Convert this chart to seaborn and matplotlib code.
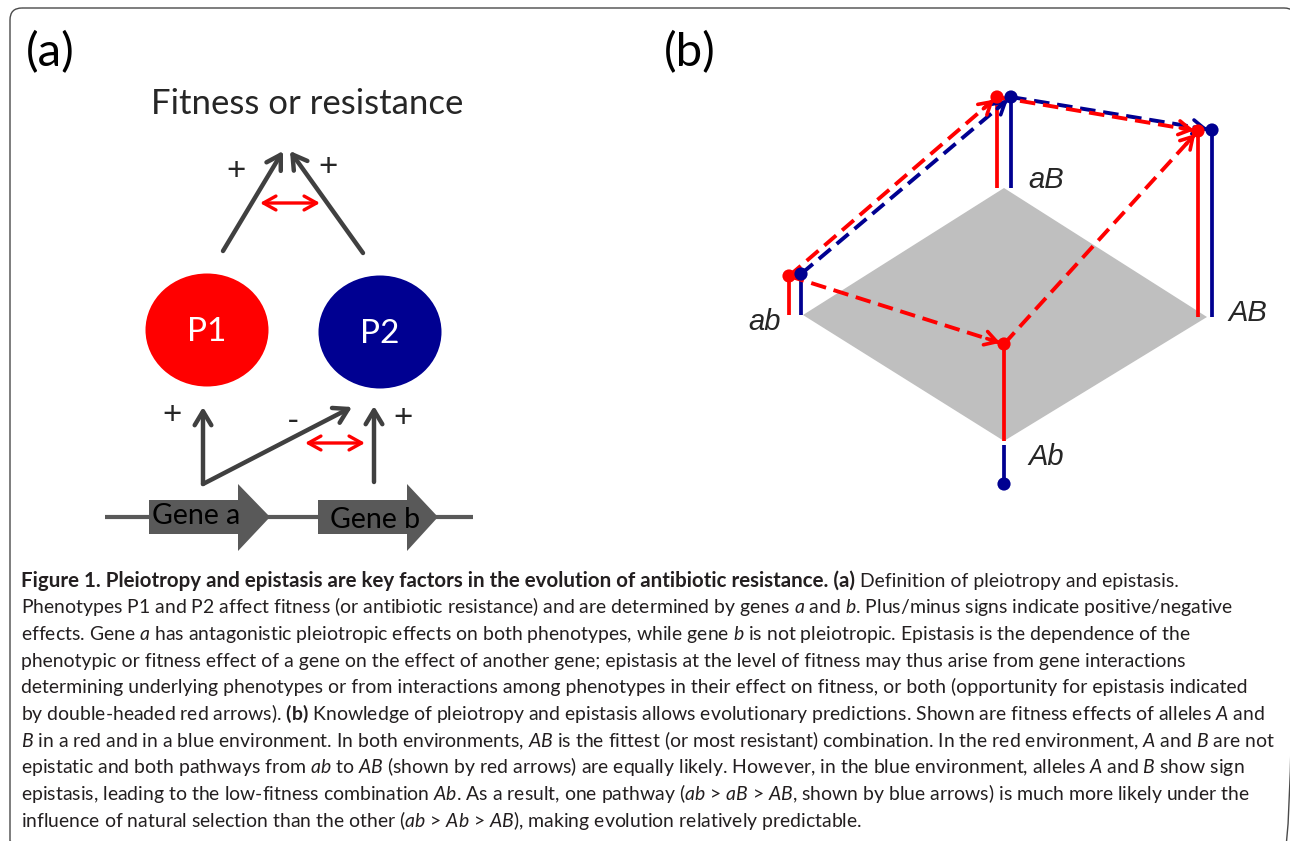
"""Pleiotropy and epistasis diagram (Figure 1) redrawn with seaborn/matplotlib."""
import matplotlib
matplotlib.use('Agg')
import matplotlib.pyplot as plt
from matplotlib.patches import Ellipse, FancyBboxPatch, Polygon
import numpy as np
import pandas as pd
import seaborn as sns

# ---- panel (a): genes -> phenotypes -> fitness ----
pheno_names = ['P1', 'P2']
pheno_x = [207, 380]
pheno_y = [330, 332]
pheno_colors = ['#FF0000', '#000091']
gene_names = ['Gene a', 'Gene b']
gene_start = [149, 318]
gene_head = [238, 407]
gene_tip = [270, 438]
gene_label_x = [152, 330]
gene_label_y = [516, 520]
# effect arrows (tail x, tail y, tip x, tip y)
effect_arrows = [(223, 251, 283, 151), (363, 253, 290, 151),
                 (203, 484, 203, 407), (203, 484, 352, 407),
                 (374, 482, 374, 406)]
epistasis_arrows = [(260, 203, 320, 203), (305, 443, 365, 443)]
sign_text = ['+', '+', '+', '-', '+']
sign_x = [236, 328, 172, 293, 403]
sign_y = [171, 167, 415, 422, 418]

# ---- panel (b): fitness of four genotypes in two environments ----
genotypes = ['ab', 'aB', 'AB', 'Ab']
corner_x = [803, 1004, 1207, 1004]
corner_y = [315, 188, 317, 441]
red_x = [789, 997, 1198, 1004]
blue_x = [801, 1011, 1212, 1004]
red_fitness = [39, 91, 186, 97]      # height above the grey plane
blue_fitness = [41, 91, 187, -43]
label_x = [781, 1028, 1228, 1028]
label_y = [322, 180, 313, 457]
red_paths = [('ab', 'aB'), ('ab', 'Ab'), ('aB', 'AB'), ('Ab', 'AB')]
blue_paths = [('ab', 'aB'), ('aB', 'AB')]

caption_lines = [
    r"Phenotypes P1 and P2 affect fitness (or antibiotic resistance) and are determined by genes $\mathit{a}$ and $\mathit{b}$. Plus/minus signs indicate positive/negative",
    r"effects. Gene $\mathit{a}$ has antagonistic pleiotropic effects on both phenotypes, while gene $\mathit{b}$ is not pleiotropic. Epistasis is the dependence of the",
    "phenotypic or fitness effect of a gene on the effect of another gene; epistasis at the level of fitness may thus arise from gene interactions",
    "determining underlying phenotypes or from interactions among phenotypes in their effect on fitness, or both (opportunity for epistasis indicated",
    r"by double-headed red arrows). $\mathbf{(b)}$ Knowledge of pleiotropy and epistasis allows evolutionary predictions. Shown are fitness effects of alleles $\mathit{A}$ and",
    r"$\mathit{B}$ in a red and in a blue environment. In both environments, $\mathit{AB}$ is the fittest (or most resistant) combination. In the red environment, $\mathit{A}$ and $\mathit{B}$ are not",
    r"epistatic and both pathways from $\mathit{ab}$ to $\mathit{AB}$ (shown by red arrows) are equally likely. However, in the blue environment, alleles $\mathit{A}$ and $\mathit{B}$ show sign",
    r"epistasis, leading to the low-fitness combination $\mathit{Ab}$. As a result, one pathway ($\mathit{ab}$ > $\mathit{aB}$ > $\mathit{AB}$, shown by blue arrows) is much more likely under the",
    r"influence of natural selection than the other ($\mathit{ab}$ > $\mathit{Ab}$ > $\mathit{AB}$), making evolution relatively predictable.",
]
caption_bold = "Figure 1. Pleiotropy and epistasis are key factors in the evolution of antibiotic resistance. (a)"
caption_first = "Definition of pleiotropy and epistasis."

RED = '#FF0000'
BLUE = '#000091'
DARK = '#404040'
GENE = '#595959'

sns.set_style('white')
plt.rcParams['font.family'] = ['Lato', 'DejaVu Sans']
plt.rcParams['mathtext.fontset'] = 'custom'
plt.rcParams['mathtext.rm'] = 'Lato'
plt.rcParams['mathtext.it'] = 'Lato:italic'
plt.rcParams['mathtext.bf'] = 'Lato:bold'

fig = plt.figure(figsize=(12.9, 8.41), dpi=100)
ax = fig.add_axes([0, 0, 1, 1])

# outer frame
ax.add_patch(FancyBboxPatch((10, 8), 1286, 845, boxstyle='round,pad=0,rounding_size=12',
                            fc='none', ec='#4a4a4a', lw=1.0))

# panel labels
ax.text(26, 53, '(a)', fontsize=34, va='center', ha='left', color='black')
ax.text(664, 53, '(b)', fontsize=34, va='center', ha='left', color='black')

# ---------------- panel (a) ----------------
ax.text(307, 104, 'Fitness or resistance', fontsize=25, ha='center', va='center')

for (x0, y0, x1, y1) in effect_arrows:
    ax.annotate('', xy=(x1, y1), xytext=(x0, y0),
                arrowprops=dict(arrowstyle='->,head_length=1.0,head_width=0.6',
                                color=DARK, lw=3.2, shrinkA=0, shrinkB=0))
for (x0, y0, x1, y1) in epistasis_arrows:
    ax.annotate('', xy=(x1, y1), xytext=(x0, y0),
                arrowprops=dict(arrowstyle='<->,head_length=0.9,head_width=0.5',
                                color=RED, lw=2.4, shrinkA=0, shrinkB=0))
for s, x, y in zip(sign_text, sign_x, sign_y):
    ax.text(x, y, s, fontsize=24, ha='center', va='center')

for name, x, y, c in zip(pheno_names, pheno_x, pheno_y, pheno_colors):
    ax.add_patch(Ellipse((x, y), 123, 113, fc=c, ec='none'))
    ax.text(x, y + 2, name, color='white', fontsize=24, ha='center', va='center')

# gene track
ax.plot([105, 473], [517, 517], color=GENE, lw=3.0, solid_capstyle='butt')
for name, x0, xh, xt, lx, ly in zip(gene_names, gene_start, gene_head, gene_tip,
                                    gene_label_x, gene_label_y):
    pts = [(x0, 500), (xh, 500), (xh, 484), (xt, 517), (xh, 551), (xh, 534), (x0, 534)]
    ax.add_patch(Polygon(pts, closed=True, fc=GENE, ec='none'))
    ax.text(lx, ly, name, fontsize=20.5, ha='left', va='center', color='black')

# ---------------- panel (b) ----------------
diamond = Polygon(list(zip(corner_x, corner_y)), closed=True, fc='#BFBFBF', ec='none', zorder=1)
ax.add_patch(diamond)

red_top = [cy - f for cy, f in zip(corner_y, red_fitness)]
blue_top = [cy - f for cy, f in zip(corner_y, blue_fitness)]

for gx, cy, top in zip(red_x, corner_y, red_top):
    ax.plot([gx, gx], [cy, top], color=RED, lw=2.7, solid_capstyle='butt', zorder=2)
for gx, cy, top in zip(blue_x, corner_y, blue_top):
    ax.plot([gx, gx], [cy if top < cy else cy + 4, top], color=BLUE, lw=2.7,
            solid_capstyle='butt', zorder=2)

idx = {g: i for i, g in enumerate(genotypes)}


def dashed_path(xs, tops, a, b, color):
    p0 = np.array([xs[idx[a]], tops[idx[a]]], float)
    p1 = np.array([xs[idx[b]], tops[idx[b]]], float)
    ax.plot([p0[0], p1[0]], [p0[1], p1[1]], color=color, lw=2.8,
            linestyle=(0, (4.0, 2.0)), zorder=3)
    u = (p1 - p0) / np.linalg.norm(p1 - p0)
    tip = p1 - 4 * u
    ax.annotate('', xy=tuple(tip), xytext=tuple(tip - 14 * u),
                arrowprops=dict(arrowstyle='->,head_length=0.85,head_width=0.5',
                                color=color, lw=2.6, shrinkA=0, shrinkB=0), zorder=3)


for a, b in blue_paths:
    dashed_path(blue_x, blue_top, a, b, BLUE)
for a, b in red_paths:
    dashed_path(red_x, red_top, a, b, RED)

dots = pd.DataFrame({
    'x': red_x + blue_x,
    'y': red_top + blue_top,
    'env': ['red'] * 4 + ['blue'] * 4,
})
sns.scatterplot(data=dots, x='x', y='y', hue='env', palette={'red': RED, 'blue': BLUE},
                s=90, linewidth=0, legend=False, ax=ax, zorder=4)
ax.set_xlim(0, 1290)
ax.set_ylim(841, 0)
ax.axis('off')

for g, lx, ly in zip(genotypes, label_x, label_y):
    ax.text(lx, ly, g, fontsize=21, style='italic', family=['Liberation Sans', 'DejaVu Sans'],
            ha='right' if g == 'ab' else 'left', va='center')

# ---------------- caption ----------------
CAP = '#231F20'
base = 14
first_y = 586.7
step = 26.67
cap_left = 21
bold_t = ax.text(cap_left, first_y, caption_bold, fontsize=base, fontweight='bold',
                 color=CAP, va='baseline', ha='left')
first_t = ax.text(cap_left, first_y, caption_first, fontsize=base, color=CAP,
                  va='baseline', ha='left')
line_t = []
for i, line in enumerate(caption_lines):
    line_t.append(ax.text(cap_left, first_y + (i + 1) * step, line, fontsize=base,
                          color=CAP, va='baseline', ha='left'))

# size the caption so its lines span the same width as the original
fig.canvas.draw()
renderer = fig.canvas.get_renderer()
w = line_t[0].get_window_extent(renderer).width
size = base * 1216.0 / w
for t in [first_t] + line_t:
    t.set_fontsize(size)
wb = bold_t.get_window_extent(renderer).width
bold_t.set_fontsize(base * 840.0 / wb)
fig.canvas.draw()
bw = bold_t.get_window_extent(renderer).width
probe1 = ax.text(0, 0, 'xx', fontsize=size)
probe2 = ax.text(0, 0, 'x x', fontsize=size)
space = probe2.get_window_extent(renderer).width - probe1.get_window_extent(renderer).width
probe1.remove()
probe2.remove()
first_t.set_x(cap_left + bw + space)

fig.savefig('out.png', dpi=100)
